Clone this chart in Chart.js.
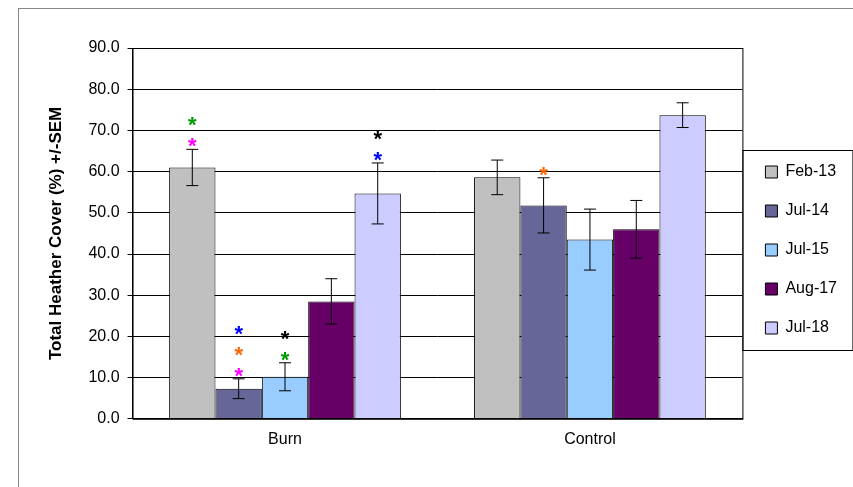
<!DOCTYPE html>
<html>
<head>
<meta charset="utf-8">
<script src="https://cdn.jsdelivr.net/npm/chart.js@4"></script>
<style>
  html, body { margin: 0; padding: 0; background: #fff; }
</style>
</head>
<body>
<canvas id="c" width="853" height="487"></canvas>
<script>
const categories = ['Burn', 'Control'];
const seriesNames = ['Feb-13', 'Jul-14', 'Jul-15', 'Aug-17', 'Jul-18'];
const seriesColors = ['#C0C0C0', '#666699', '#99CCFF', '#660066', '#CCCCFF'];
const feb13 = [61.0, 58.6];
const jul14 = [7.3, 51.8];
const jul15 = [10.2, 43.5];
const aug17 = [28.5, 46.0];
const jul18 = [54.7, 73.7];
const semFeb13 = [4.4, 4.2];
const semJul14 = [2.4, 6.7];
const semJul15 = [3.4, 7.4];
const semAug17 = [5.5, 7.0];
const semJul18 = [7.4, 3.0];
// significance asterisks per series, per category, listed top to bottom
const starsFeb13 = [['#009900', '#FF00FF'], []];
const starsJul14 = [['#0000FF', '#FF6600', '#FF00FF'], ['#FF6600']];
const starsJul15 = [['#000000', '#009900'], []];
const starsAug17 = [[], []];
const starsJul18 = [['#000000', '#0000FF'], []];

const values = [feb13, jul14, jul15, aug17, jul18];
const sems = [semFeb13, semJul14, semJul15, semAug17, semJul18];
const stars = [starsFeb13, starsJul14, starsJul15, starsAug17, starsJul18];

const extras = {
    id: 'extras',
    afterDatasetsDraw(chart) {
        const ctx = chart.ctx;
        const y = chart.scales.y;
        ctx.save();
        chart.data.datasets.forEach((ds, i) => {
            const meta = chart.getDatasetMeta(i);
            meta.data.forEach((bar, j) => {
                const v = ds.data[j], e = sems[i][j];
                const yt = y.getPixelForValue(v + e), yb = y.getPixelForValue(v - e);
                ctx.strokeStyle = '#000'; ctx.lineWidth = 1;
                ctx.beginPath();
                ctx.moveTo(bar.x, yt); ctx.lineTo(bar.x, yb);
                ctx.moveTo(bar.x - 6, yt); ctx.lineTo(bar.x + 6, yt);
                ctx.moveTo(bar.x - 6, yb); ctx.lineTo(bar.x + 6, yb);
                ctx.stroke();
                const s = stars[i][j];
                ctx.font = 'bold 22px "Liberation Sans", Arial';
                ctx.textAlign = 'center';
                ctx.textBaseline = 'alphabetic';
                for (let k = s.length - 1, n = 0; k >= 0; k--, n++) {
                    ctx.fillStyle = s[k];
                    ctx.fillText('*', bar.x, yt + 4 - n * 21);
                }
            });
        });
        const a = chart.chartArea;
        ctx.strokeStyle = '#000'; ctx.lineWidth = 1;
        ctx.strokeRect(a.left + 0.5, a.top + 0.5, a.right - a.left, a.bottom - a.top);
        const hb = chart.legend.legendHitBoxes;
        const top = hb[0].top - 14, bot = hb[hb.length - 1].top + hb[hb.length - 1].height + 14;
        ctx.strokeRect(a.right + 0.5, top + 0.5, 110, bot - top);
        ctx.strokeStyle = '#888';
        ctx.strokeRect(18.5, 8.5, 840, 480);
        ctx.restore();
    }
};

new Chart(document.getElementById('c'), {
    type: 'bar',
    data: {
        labels: categories,
        datasets: seriesNames.map((n, i) => ({
            label: n,
            data: values[i],
            backgroundColor: seriesColors[i],
            borderColor: '#000',
            borderWidth: 1,
            categoryPercentage: 0.76,
            barPercentage: 1.0
        }))
    },
    options: {
        responsive: false,
        animation: false,
        devicePixelRatio: 1,
        layout: { padding: { left: 42, top: 48, right: 6, bottom: 35 } },
        plugins: {
            legend: {
                position: 'right',
                labels: {
                    font: { family: '"Liberation Sans", Arial', size: 16 },
                    color: '#000',
                    boxWidth: 12, boxHeight: 12,
                    padding: 23
                }
            },
            tooltip: { enabled: false }
        },
        scales: {
            x: {
                grid: { display: false },
                border: { color: '#000' },
                ticks: { color: '#000', font: { family: '"Liberation Sans", Arial', size: 16 } }
            },
            y: {
                min: 0, max: 90,
                ticks: {
                    stepSize: 10, color: '#000', padding: 8,
                    font: { family: '"Liberation Sans", Arial', size: 16 },
                    callback: v => v.toFixed(1)
                },
                grid: { color: '#000', drawTicks: true, tickLength: 5 },
                border: { color: '#000' },
                title: {
                    display: true, text: 'Total Heather Cover (%) +/-SEM', color: '#000',
                    padding: { top: 4, bottom: 14 },
                    font: { family: '"Liberation Sans", Arial', size: 17, weight: 'bold' }
                }
            }
        }
    },
    plugins: [extras]
});
</script>
</body>
</html>
